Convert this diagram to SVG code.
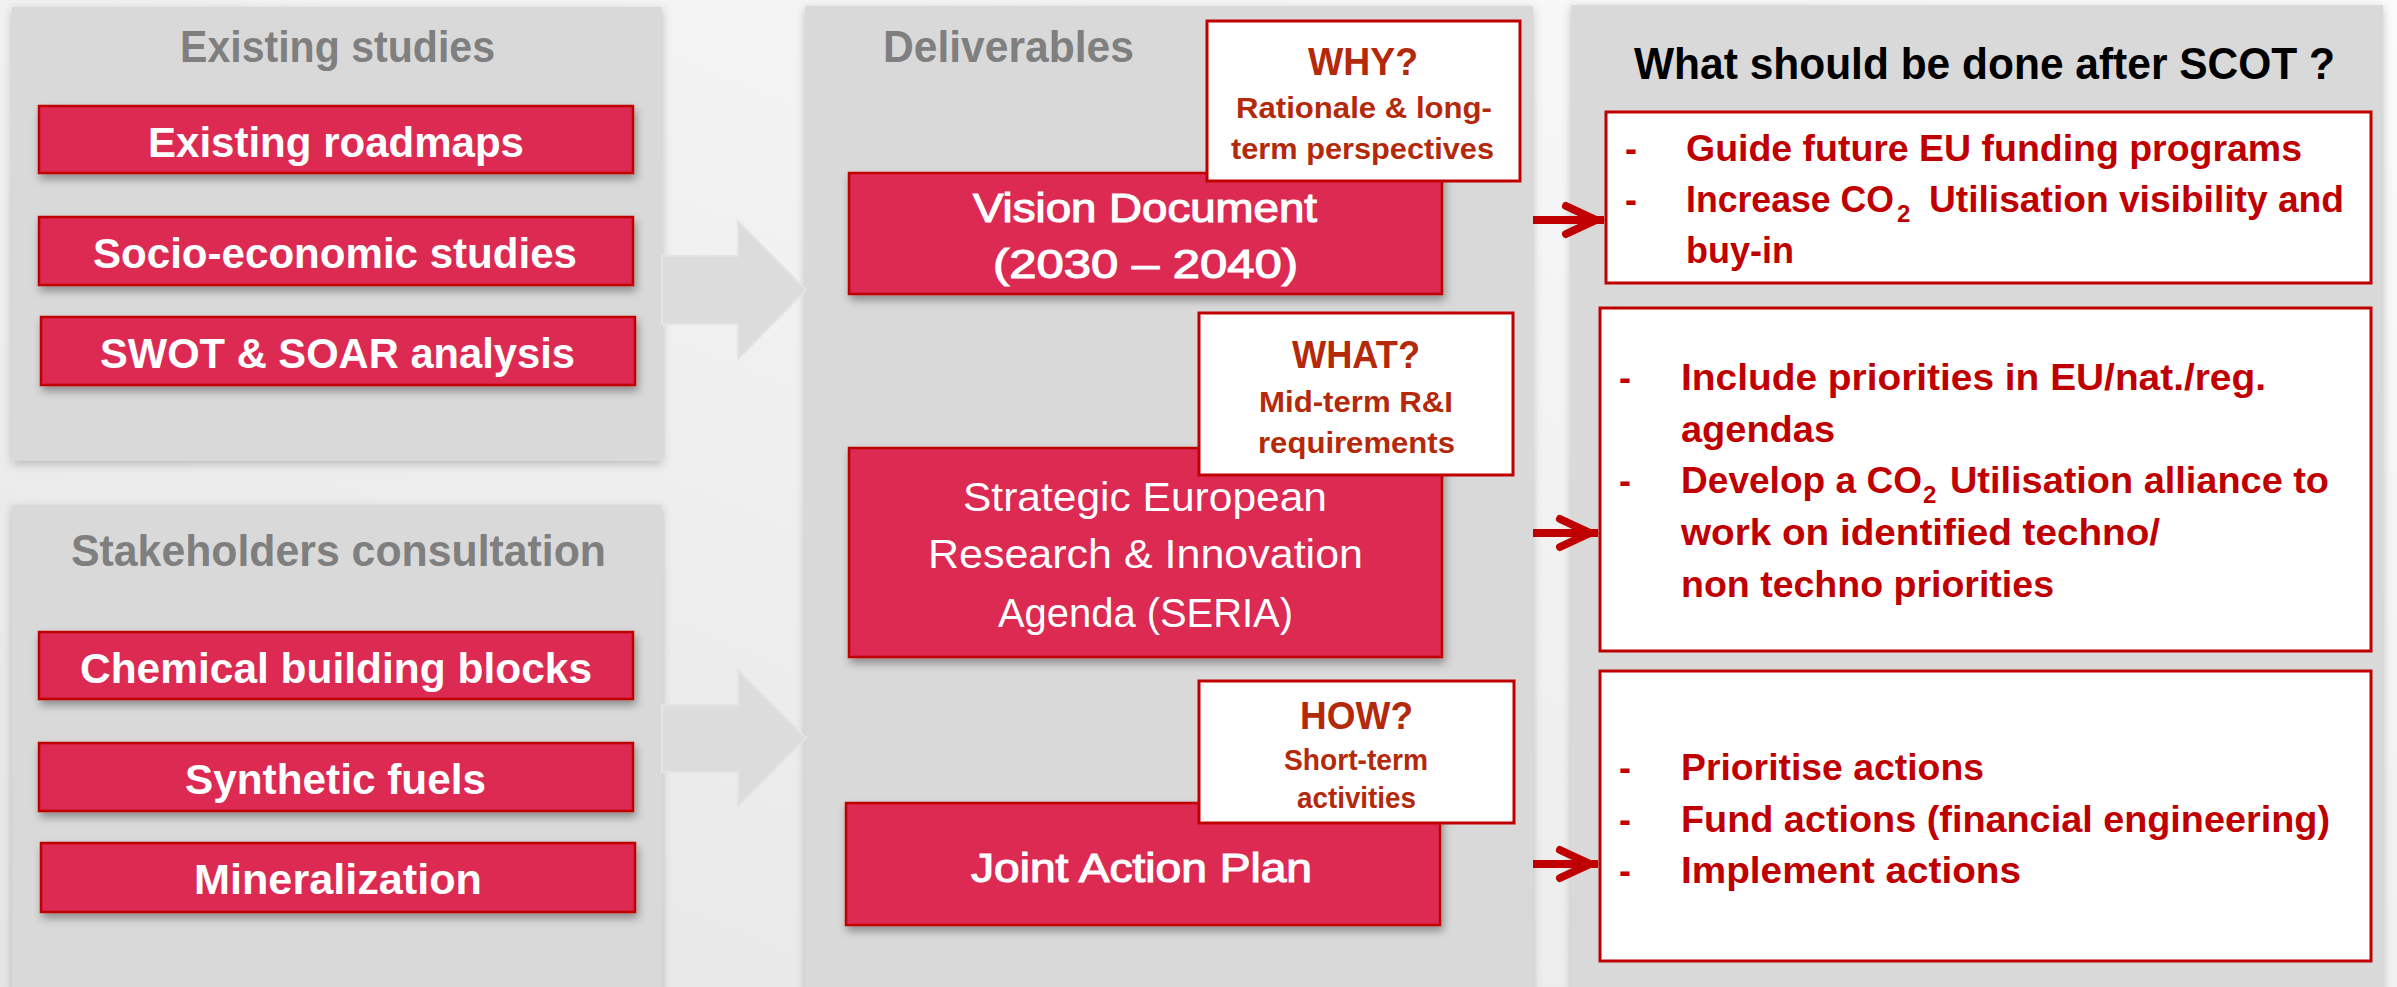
<svg xmlns="http://www.w3.org/2000/svg" width="2397" height="987" viewBox="0 0 2397 987">
<defs>
<style>
.panel{fill:#d9d9d9;filter:url(#psh)}
.rbox{fill:#dd2a53;stroke:#c00000;stroke-width:2.5;filter:url(#sh)}
.wbox{fill:#fff;stroke:#c00000;stroke-width:3}
.garrow{fill:#dcdcdc;stroke:#e4e4e4;stroke-width:2}
.rline{fill:none;stroke:#c00000;stroke-width:8;marker-end:url(#arr)}
text{font-family:"Liberation Sans Narrow","Liberation Sans",Arial,sans-serif}
.ptitle{font-weight:bold;font-size:45px;fill:#7f7f7f}
.rt{font-weight:bold;font-size:43px;fill:#fff}
.ct{font-weight:normal;font-size:40px;fill:#fff}
.cm{font-weight:normal;font-size:41px;fill:#fff;stroke:#fff;stroke-width:1.2}
.q{font-weight:bold;font-size:39px;fill:#b5290b}
.qs{font-weight:bold;font-size:30px;fill:#b5290b}
.lt{font-weight:bold;font-size:36px;fill:#c00000}
.sub{font-weight:bold;font-size:24px;fill:#c00000}
.bt{font-weight:bold;font-size:45px;fill:#000}
</style>
<linearGradient id="bg" x1="1" y1="0" x2="0" y2="1">
<stop offset="0" stop-color="#fbfbfb"/>
<stop offset="1" stop-color="#e6e6e6"/>
</linearGradient>
<filter id="sh" x="-10%" y="-20%" width="120%" height="150%">
<feDropShadow dx="2" dy="5" stdDeviation="4" flood-color="#000" flood-opacity="0.35"/>
</filter>
<filter id="psh" x="-5%" y="-5%" width="110%" height="110%">
<feDropShadow dx="0" dy="3" stdDeviation="5" flood-color="#000" flood-opacity="0.22"/>
</filter>
<marker id="arr" markerUnits="userSpaceOnUse" markerWidth="50" markerHeight="50" viewBox="-45 -25 50 50" refX="0" refY="0" orient="auto" style="overflow:visible">
<path d="M-38,-14 L-8,0 L-38,14" fill="none" stroke="#c00000" stroke-width="8" stroke-linecap="round" stroke-linejoin="miter"/>
</marker>
</defs>

<rect x="0" y="0" width="2397" height="987" fill="url(#bg)"/>

<g id="panels">
<rect id="panel-existing" class="panel" x="12" y="7" width="650" height="454"/>
<rect id="panel-stakeholders" class="panel" x="12" y="505" width="650" height="500"/>
<rect id="panel-deliverables" class="panel" x="805" y="6" width="728" height="1000"/>
<rect id="panel-after" class="panel" x="1571" y="5" width="812" height="1000"/>
<text class="ptitle" x="180" y="62" textLength="315" lengthAdjust="spacingAndGlyphs">Existing studies</text>
<text class="ptitle" x="71" y="566" textLength="535" lengthAdjust="spacingAndGlyphs">Stakeholders consultation</text>
<text class="ptitle" x="883" y="62" textLength="251" lengthAdjust="spacingAndGlyphs">Deliverables</text>
<text class="bt" x="1634" y="79" textLength="701" lengthAdjust="spacingAndGlyphs">What should be done after SCOT ?</text>
</g>

<g id="connectors">
<path class="garrow" d="M662,256 H738 V221 L806,290 L738,359 V324 H662 Z"/>
<path class="garrow" d="M662,705 H738 V670 L806,738 L738,806 V772 H662 Z"/>
<path class="rline" d="M1533,220 H1604"/>
<path class="rline" d="M1533,533 H1598"/>
<path class="rline" d="M1533,864 H1598"/>
</g>

<g id="existing-roadmaps">
<rect class="rbox" x="39" y="106" width="594" height="67"/>
<text class="rt" x="148" y="157" textLength="376" lengthAdjust="spacingAndGlyphs">Existing roadmaps</text>
</g>
<g id="socio-economic">
<rect class="rbox" x="39" y="217" width="594" height="68"/>
<text class="rt" x="93" y="268" textLength="484" lengthAdjust="spacingAndGlyphs">Socio-economic studies</text>
</g>
<g id="swot-soar">
<rect class="rbox" x="41" y="317" width="594" height="68"/>
<text class="rt" x="100" y="368" textLength="475" lengthAdjust="spacingAndGlyphs">SWOT &amp; SOAR analysis</text>
</g>
<g id="chemical">
<rect class="rbox" x="39" y="632" width="594" height="67"/>
<text class="rt" x="80" y="683" textLength="512" lengthAdjust="spacingAndGlyphs">Chemical building blocks</text>
</g>
<g id="synthetic">
<rect class="rbox" x="39" y="743" width="594" height="68"/>
<text class="rt" x="185" y="794" textLength="301" lengthAdjust="spacingAndGlyphs">Synthetic fuels</text>
</g>
<g id="mineralization">
<rect class="rbox" x="41" y="843" width="594" height="69"/>
<text class="rt" x="194" y="894" textLength="288" lengthAdjust="spacingAndGlyphs">Mineralization</text>
</g>

<g id="vision">
<rect class="rbox" x="849" y="173" width="593" height="121"/>
<text class="cm" x="973" y="222" textLength="344" lengthAdjust="spacingAndGlyphs">Vision Document</text>
<text class="cm" x="993" y="278" textLength="305" lengthAdjust="spacingAndGlyphs">(2030 – 2040)</text>
</g>
<g id="why">
<rect class="wbox" x="1207" y="21" width="313" height="160"/>
<text class="q" x="1308" y="75" textLength="110" lengthAdjust="spacingAndGlyphs">WHY?</text>
<text class="qs" x="1236" y="118" textLength="256" lengthAdjust="spacingAndGlyphs">Rationale &amp; long-</text>
<text class="qs" x="1231" y="159" textLength="263" lengthAdjust="spacingAndGlyphs">term perspectives</text>
</g>
<g id="seria">
<rect class="rbox" x="849" y="448" width="593" height="209"/>
<text class="ct" x="963" y="511" textLength="364" lengthAdjust="spacingAndGlyphs">Strategic European</text>
<text class="ct" x="928" y="568" textLength="435" lengthAdjust="spacingAndGlyphs">Research &amp; Innovation</text>
<text class="ct" x="998" y="627" textLength="295" lengthAdjust="spacingAndGlyphs">Agenda (SERIA)</text>
</g>
<g id="what">
<rect class="wbox" x="1199" y="313" width="314" height="162"/>
<text class="q" x="1292" y="368" textLength="128" lengthAdjust="spacingAndGlyphs">WHAT?</text>
<text class="qs" x="1259" y="412" textLength="194" lengthAdjust="spacingAndGlyphs">Mid-term R&amp;I</text>
<text class="qs" x="1258" y="453" textLength="197" lengthAdjust="spacingAndGlyphs">requirements</text>
</g>
<g id="joint-action-plan">
<rect class="rbox" x="846" y="803" width="594" height="122"/>
<text class="cm" x="971" y="882" textLength="341" lengthAdjust="spacingAndGlyphs">Joint Action Plan</text>
</g>
<g id="how">
<rect class="wbox" x="1199" y="681" width="315" height="142"/>
<text class="q" x="1300" y="729" textLength="113" lengthAdjust="spacingAndGlyphs">HOW?</text>
<text class="qs" x="1284" y="770" textLength="144" lengthAdjust="spacingAndGlyphs">Short-term</text>
<text class="qs" x="1297" y="808" textLength="119" lengthAdjust="spacingAndGlyphs">activities</text>
</g>

<g id="outcome-vision">
<rect class="wbox" x="1606" y="112" width="765" height="171"/>
<text class="lt" x="1625" y="161">-</text>
<text class="lt" x="1686" y="161" textLength="616" lengthAdjust="spacingAndGlyphs">Guide future EU funding programs</text>
<text class="lt" x="1625" y="212">-</text>
<text class="lt" x="1686" y="212" textLength="208" lengthAdjust="spacingAndGlyphs">Increase CO</text>
<text class="sub" x="1897" y="222">2</text>
<text class="lt" x="1929" y="212" textLength="415" lengthAdjust="spacingAndGlyphs">Utilisation visibility and</text>
<text class="lt" x="1686" y="263" textLength="108" lengthAdjust="spacingAndGlyphs">buy-in</text>
</g>
<g id="outcome-seria">
<rect class="wbox" x="1600" y="308" width="771" height="343"/>
<text class="lt" x="1619" y="390">-</text>
<text class="lt" x="1681" y="390" textLength="585" lengthAdjust="spacingAndGlyphs">Include priorities in EU/nat./reg.</text>
<text class="lt" x="1681" y="442" textLength="154" lengthAdjust="spacingAndGlyphs">agendas</text>
<text class="lt" x="1619" y="493">-</text>
<text class="lt" x="1681" y="493" textLength="241" lengthAdjust="spacingAndGlyphs">Develop a CO</text>
<text class="sub" x="1923" y="503">2</text>
<text class="lt" x="1950" y="493" textLength="379" lengthAdjust="spacingAndGlyphs">Utilisation alliance to</text>
<text class="lt" x="1681" y="545" textLength="479" lengthAdjust="spacingAndGlyphs">work on identified techno/</text>
<text class="lt" x="1681" y="597" textLength="373" lengthAdjust="spacingAndGlyphs">non techno priorities</text>
</g>
<g id="outcome-jap">
<rect class="wbox" x="1600" y="671" width="771" height="290"/>
<text class="lt" x="1619" y="780">-</text>
<text class="lt" x="1681" y="780" textLength="303" lengthAdjust="spacingAndGlyphs">Prioritise actions</text>
<text class="lt" x="1619" y="832">-</text>
<text class="lt" x="1681" y="832" textLength="649" lengthAdjust="spacingAndGlyphs">Fund actions (financial engineering)</text>
<text class="lt" x="1619" y="883">-</text>
<text class="lt" x="1681" y="883" textLength="340" lengthAdjust="spacingAndGlyphs">Implement actions</text>
</g>
</svg>
